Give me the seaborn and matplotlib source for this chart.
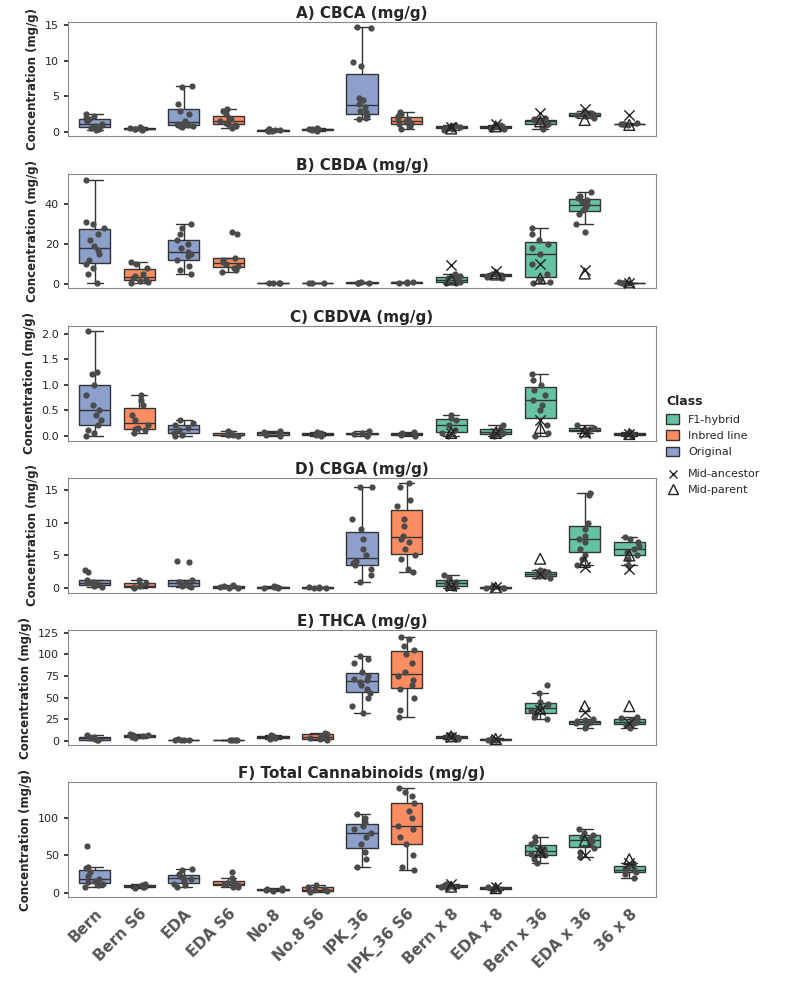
import numpy as np
import pandas as pd
import matplotlib
matplotlib.use("Agg")
import matplotlib.pyplot as plt
from matplotlib.patches import Patch
from matplotlib.lines import Line2D
import seaborn as sns

sns.set_theme(style="white")
plt.rcParams["font.family"] = ["DejaVu Sans"]
np.random.seed(3)

# categorias e classes
grupos = ["Bern", "Bern S6", "EDA", "EDA S6", "No.8", "No.8 S6", "IPK_36", "IPK_36 S6",
          "Bern x 8", "EDA x 8", "Bern x 36", "EDA x 36", "36 x 8"]
classes = ["Original", "Inbred line", "Original", "Inbred line", "Original", "Inbred line",
           "Original", "Inbred line", "F1-hybrid", "F1-hybrid", "F1-hybrid", "F1-hybrid", "F1-hybrid"]
hibridos = ["Bern x 8", "EDA x 8", "Bern x 36", "EDA x 36", "36 x 8"]
cores = {"F1-hybrid": "#66C2A5", "Inbred line": "#FC8D62", "Original": "#8DA0CB"}

titulos = ["A) CBCA (mg/g)", "B) CBDA (mg/g)", "C) CBDVA (mg/g)", "D) CBGA (mg/g)",
           "E) THCA (mg/g)", "F) Total Cannabinoids (mg/g)"]

cbca = [
    [0.3, 0.5, 0.6, 0.8, 1.0, 1.2, 1.5, 1.8, 2.0, 2.3, 2.5, 0.7],
    [0.3, 0.4, 0.5, 0.5, 0.6, 0.7, 0.4],
    [0.7, 0.9, 1.0, 1.1, 1.2, 1.5, 2.5, 3.0, 4.0, 6.3, 6.5, 0.8],
    [0.6, 0.9, 1.0, 1.3, 1.5, 1.8, 2.0, 2.5, 3.0, 3.2, 1.2],
    [0.1, 0.2, 0.2, 0.3, 0.3, 0.4, 0.5],
    [0.2, 0.3, 0.4, 0.4, 0.5, 0.6],
    [1.8, 2.0, 2.3, 2.5, 2.8, 3.0, 3.5, 4.0, 4.5, 4.8, 9.3, 9.8, 14.7, 14.6],
    [0.5, 0.8, 1.0, 1.3, 1.5, 1.8, 2.0, 2.3, 2.6, 2.8, 1.2],
    [0.3, 0.5, 0.6, 0.7, 0.8, 0.9, 1.0],
    [0.4, 0.5, 0.6, 0.7, 0.8, 0.9, 1.0],
    [0.5, 1.2, 1.4, 1.5, 1.6, 1.7, 1.8, 2.0, 1.0],
    [2.0, 2.2, 2.3, 2.4, 2.5, 2.6, 2.7, 3.0],
    [1.0, 1.1, 1.2, 1.2, 1.3],
]
cbda = [
    [0.5, 5, 8, 10, 12, 15, 17, 19, 22, 25, 28, 30, 31, 52],
    [0.5, 1, 1.5, 2, 3, 4, 5, 8, 10, 11],
    [5, 7, 9, 12, 14, 15, 16, 18, 20, 22, 25, 28, 30],
    [6, 7, 8, 9, 10, 11, 12, 13, 25, 26],
    [0.1, 0.2, 0.3, 0.3],
    [0.1, 0.2, 0.3],
    [0.2, 0.4, 0.5, 0.6],
    [0.3, 0.5, 0.7, 0.8],
    [0.2, 0.5, 1, 2, 3, 4, 5],
    [3, 3.5, 4, 4.5, 5, 5.5],
    [0.5, 1, 2, 5, 10, 15, 18, 20, 22, 25, 28],
    [26, 30, 35, 37, 38, 39, 40, 41, 42, 43, 44, 46],
    [0.1, 0.2, 0.3, 0.5, 1],
]
cbdva = [
    [0.0, 0.05, 0.1, 0.2, 0.3, 0.4, 0.5, 0.6, 0.8, 1.0, 1.2, 1.25, 2.05],
    [0.05, 0.1, 0.12, 0.15, 0.2, 0.3, 0.4, 0.6, 0.7, 0.8],
    [0.0, 0.02, 0.05, 0.1, 0.15, 0.2, 0.3, 0.25],
    [0.0, 0.01, 0.02, 0.05, 0.08],
    [0.0, 0.02, 0.05, 0.07, 0.08],
    [0.0, 0.02, 0.05, 0.07],
    [0.0, 0.03, 0.05, 0.08],
    [0.0, 0.02, 0.05, 0.07],
    [0.0, 0.05, 0.1, 0.2, 0.3, 0.35, 0.4],
    [0.0, 0.03, 0.05, 0.1, 0.15, 0.2],
    [0.0, 0.05, 0.2, 0.5, 0.6, 0.7, 0.8, 0.9, 1.0, 1.1, 1.2],
    [0.05, 0.08, 0.1, 0.12, 0.15, 0.2],
    [0.0, 0.02, 0.04, 0.05, 0.07],
]
cbga = [
    [0.2, 0.3, 0.5, 0.6, 0.8, 1.0, 1.2, 2.5, 2.8],
    [0.1, 0.2, 0.3, 0.5, 0.8, 1.2],
    [0.2, 0.3, 0.4, 0.6, 0.8, 1.0, 1.3, 4.0, 4.2],
    [0.05, 0.1, 0.2, 0.3, 0.5],
    [0.05, 0.1, 0.15, 0.2, 0.3],
    [0.05, 0.08, 0.1, 0.15, 0.2],
    [1.0, 2.0, 3.0, 3.5, 3.8, 4.0, 4.2, 5.0, 6.0, 7.5, 9.0, 10.5, 15.5, 15.4],
    [2.5, 3.0, 4.5, 5.0, 6.0, 7.0, 7.5, 8.0, 9.5, 10.5, 12.5, 13.5, 15.5, 16.0],
    [0.1, 0.3, 0.5, 0.8, 1.0, 1.5, 2.0],
    [0.02, 0.05, 0.1, 0.15, 0.3],
    [1.5, 1.8, 2.0, 2.2, 2.4, 2.6, 2.8],
    [3.5, 4.5, 5.0, 6.0, 7.0, 7.5, 8.0, 9.0, 10.0, 14.5, 14.3],
    [3.5, 4.5, 5.0, 5.5, 6.0, 6.5, 7.0, 7.5, 7.8],
]
thca = [
    [0.5, 1, 2, 3, 4, 6],
    [3, 4, 5, 6, 7, 8],
    [0.2, 0.5, 0.8, 1, 1.5],
    [0.2, 0.5, 0.8, 1],
    [2, 3, 4, 5, 6],
    [1, 2, 3, 5, 8, 9],
    [32, 40, 50, 55, 60, 65, 68, 70, 72, 75, 80, 90, 95, 98],
    [28, 35, 50, 60, 65, 70, 75, 80, 90, 100, 105, 110, 118, 120],
    [2, 3, 4, 5, 6, 7],
    [0.5, 1, 1.5, 2, 3],
    [25, 28, 30, 33, 35, 38, 40, 42, 45, 55, 65],
    [15, 18, 20, 21, 22, 23, 24, 25],
    [15, 18, 20, 22, 24, 26, 28],
]
total = [
    [8, 10, 12, 14, 16, 18, 22, 28, 33, 35, 62],
    [6, 7, 8, 9, 10, 11],
    [8, 10, 12, 15, 18, 20, 22, 25, 30, 32],
    [7, 8, 10, 11, 12, 13, 15, 20, 28],
    [2, 3, 4, 5, 6],
    [1, 2, 3, 5, 8, 10],
    [35, 45, 55, 65, 75, 80, 85, 90, 95, 100, 105],
    [30, 35, 50, 65, 75, 85, 90, 100, 110, 120, 130, 135, 140],
    [6, 7, 8, 9, 10, 12],
    [4, 5, 6, 7, 8],
    [40, 45, 50, 52, 55, 58, 60, 65, 70, 75],
    [48, 55, 60, 65, 70, 72, 75, 78, 80, 85],
    [20, 25, 28, 30, 32, 35, 38, 40],
]

# mid-ancestor (X) e mid-parent (triângulo) para os híbridos
mid_ancestor = [[0.7, 1.2, 2.7, 3.3, 2.4], [9.5, 6.5, 10, 7, 0.3], [0.05, 0.05, 0.3, 0.05, 0.03],
                [0.3, 0.2, 2.2, 3.3, 3.0], [4, 2, 35, 33, 20], [12, 8, 55, 50, 40]]
mid_parent = [[0.5, 0.8, 1.5, 1.7, 1.0], [2, 4.5, 2.5, 5, 0.5], [0.05, 0.05, 0.15, 0.08, 0.03],
              [0.5, 0.1, 4.5, 4.0, 5.0], [5, 2, 37, 40, 40], [8, 6, 55, 70, 45]]

paineis = [cbca, cbda, cbdva, cbga, thca, total]
yticks = [[0, 5, 10, 15], [0, 20, 40], [0.0, 0.5, 1.0, 1.5, 2.0], [0, 5, 10, 15],
          [0, 25, 50, 75, 100, 125], [0, 50, 100]]
ylims = [(-0.6, 15.5), (-2.5, 55), (-0.1, 2.15), (-0.7, 16.8), (-5, 128), (-6, 148)]

fig = plt.figure(figsize=(8, 9.88), dpi=100)
h = 0.116

for i, dados in enumerate(paineis):
    bottom = 0.862 - i * 0.154
    ax = fig.add_axes([0.085, bottom, 0.735, h])
    linhas = []
    for g, cl, vals in zip(grupos, classes, dados):
        for v in vals:
            linhas.append({"grupo": g, "classe": cl, "valor": v})
    df = pd.DataFrame(linhas)
    sns.boxplot(data=df, x="grupo", y="valor", hue="classe", order=grupos,
                palette=cores, saturation=1, dodge=False, showfliers=False, width=0.7,
                linecolor="#333333", linewidth=1, ax=ax, legend=False)
    sns.stripplot(data=df, x="grupo", y="valor", order=grupos, color="#4a4a4a",
                  size=4.5, jitter=0.22, ax=ax)
    pos = [grupos.index(g) for g in hibridos]
    ax.scatter(pos, mid_ancestor[i], marker="x", s=55, color="#222222", linewidths=1, zorder=5)
    ax.scatter(pos, mid_parent[i], marker="^", s=60, facecolors="none",
               edgecolors="#222222", linewidths=1, zorder=5)
    ax.set_title(titulos[i], fontsize=11, fontweight="bold", pad=3)
    ax.set_ylabel("Concentration (mg/g)", fontsize=8.5, fontweight="bold")
    ax.set_xlabel("")
    ax.set_yticks(yticks[i])
    ax.set_ylim(*ylims[i])
    ax.tick_params(axis="y", labelsize=8, length=3, left=True)
    ax.set_xlim(-0.6, len(grupos) - 0.4)
    for s in ax.spines.values():
        s.set_color("#888888")
        s.set_linewidth(0.8)
    if i < 5:
        ax.set_xticklabels([])
        ax.tick_params(axis="x", length=0)
    else:
        ax.set_xticks(range(len(grupos)))
        ax.set_xticklabels(grupos, rotation=45, ha="right", rotation_mode="anchor",
                           fontsize=11, fontweight="bold", color="#555555")
        ax.tick_params(axis="x", length=3)

# legendas
h_cl = [Patch(facecolor=cores[c], edgecolor="#333333", label=c)
        for c in ["F1-hybrid", "Inbred line", "Original"]]
fig.legend(handles=h_cl, title="Class", loc="upper left", bbox_to_anchor=(0.82, 0.61),
           frameon=False, fontsize=8, title_fontproperties={"weight": "bold", "size": 9},
           handlelength=1.2, handleheight=1.0, alignment="left")
h_mk = [Line2D([], [], marker="x", ls="", color="#222222", markersize=6, label="Mid-ancestor"),
        Line2D([], [], marker="^", ls="", markerfacecolor="none", markeredgecolor="#222222",
               markersize=7, label="Mid-parent")]
fig.legend(handles=h_mk, loc="upper left", bbox_to_anchor=(0.82, 0.535), frameon=False,
           fontsize=8, handlelength=1.2)

fig.savefig("out.png", dpi=100)
